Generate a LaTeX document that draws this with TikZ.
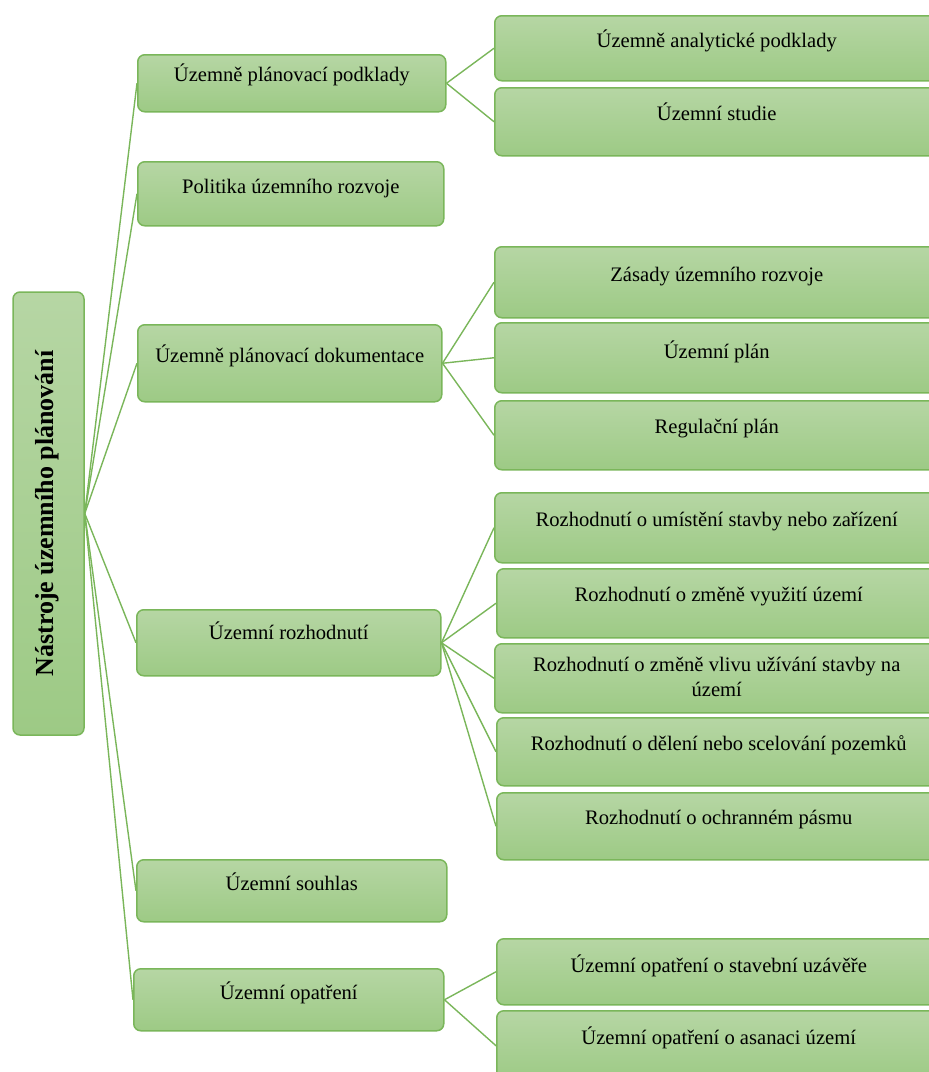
\documentclass[tikz,border=0pt]{standalone}
\usepackage{fontspec}
\setmainfont{Liberation Serif}
\definecolor{boxtop}{RGB}{182,214,164}
\definecolor{boxbot}{RGB}{157,202,133}
\definecolor{edge}{RGB}{122,182,90}
\tikzset{
  box/.style={draw=edge, line width=1.5pt, rounded corners=7pt, top color=boxtop, bottom color=boxbot,
    inner xsep=0pt, inner ysep=0pt, align=center, anchor=north west,
    font=\fontsize{20.6}{25}\selectfont},
  sz/.style n args={3}{minimum width=#1pt, text height=#2pt, text depth=#3pt},
  conn/.style={draw=edge, line width=1.4pt}
}
\begin{document}
\begin{tikzpicture}[x=1pt,y=-1pt]
\useasboundingbox (0,0) rectangle (929,1072);
% root
\node[box, anchor=center, rotate=90, sz={443}{40}{31}, font=\fontsize{26}{30}\selectfont\bfseries] (root) at (48.5,513.5) {Nástroje územního plánování};
% level 2
\node[box, sz={308}{27}{30}] (A) at (137,54) {Územně plánovací podklady};
\node[box, sz={306}{32}{32}] (B) at (137,161) {Politika územního rozvoje};
\node[box, sz={304}{38}{39}] (C) at (137,324) {Územně plánovací dokumentace};
\node[box, sz={304}{30}{36}] (D) at (136,609) {Územní rozhodnutí};
\node[box, sz={310}{31}{31}] (E) at (136,859) {Územní souhlas};
\node[box, sz={310}{31}{31}] (F) at (133,968) {Územní opatření};
% level 3
\node[box, sz={444}{32}{33}] (a) at (494,15) {Územně analytické podklady};
\node[box, sz={444}{33}{35}] (b) at (494,87) {Územní studie};
\node[box, sz={444}{35}{36}] (c) at (494,246) {Zásady územního rozvoje};
\node[box, sz={444}{36}{34}] (d) at (494,322) {Územní plán};
\node[box, sz={444}{33}{36}] (e) at (494,400) {Regulační plán};
\node[box, sz={444}{34}{36}] (f) at (494,492) {Rozhodnutí o umístění stavby nebo zařízení};
\node[box, sz={444}{33}{36}] (g) at (496,568) {Rozhodnutí o změně využití území};
\node[box, sz={444}{53}{16}] (h) at (494,643) {Rozhodnutí o změně vlivu užívání stavby na\\území};
\node[box, sz={444}{33}{35}] (i) at (496,717) {Rozhodnutí o dělení nebo scelování pozemků};
\node[box, sz={444}{32}{35}] (j) at (496,792) {Rozhodnutí o ochranném pásmu};
\node[box, sz={444}{34}{32}] (k) at (496,938) {Územní opatření o stavební uzávěře};
\node[box, sz={444}{34}{36}] (l) at (496,1010) {Územní opatření o asanaci území};
% connectors
\foreach \n in {A,B,C,D,E,F} \draw[conn] (root.south) -- (\n.west);
\foreach \n in {a,b} \draw[conn] (A.east) -- (\n.west);
\foreach \n in {c,d,e} \draw[conn] (C.east) -- (\n.west);
\foreach \n in {f,g,h,i,j} \draw[conn] (D.east) -- (\n.west);
\foreach \n in {k,l} \draw[conn] (F.east) -- (\n.west);
\end{tikzpicture}
\end{document}
